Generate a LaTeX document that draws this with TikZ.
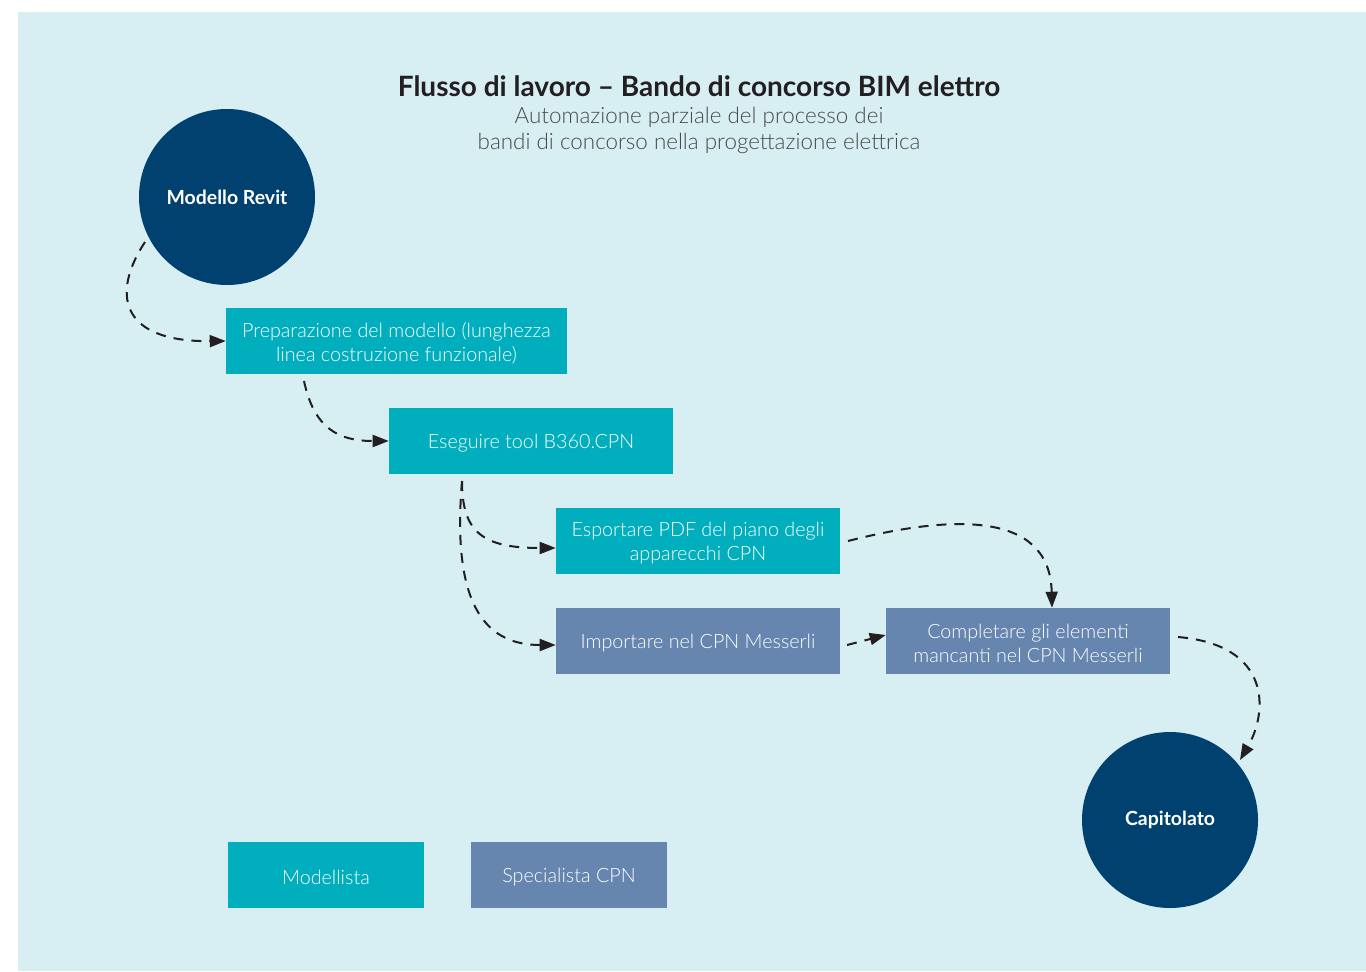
\documentclass[tikz,border=0pt]{standalone}
\usepackage{fontspec}
\setmainfont{Lato}
\newfontfamily\latolight{Lato Light}
\usetikzlibrary{arrows.meta}
\definecolor{bgc}{HTML}{D7EEF2}
\definecolor{tealc}{HTML}{00AEBD}
\definecolor{slatec}{HTML}{6685AF}
\definecolor{navyc}{HTML}{00416F}
\definecolor{inkc}{HTML}{231F20}
\definecolor{subc}{HTML}{4A4A4A}
\tikzset{
  boxbase/.style={rectangle, inner sep=0pt, minimum height=49.5pt, text=white, align=center,
    font=\latolight\fontsize{14.8}{18}\selectfont, yshift=-1.8pt,
    append after command={}},
  tealbox/.style={boxbase},
  slatebox/.style={boxbase},
  tealfill/.style={fill=tealc, inner sep=0pt, minimum height=49.5pt},
  slatefill/.style={fill=slatec, inner sep=0pt, minimum height=49.5pt},
  disc/.style={circle, fill=navyc, minimum size=132pt, inner sep=0pt, text=white,
    font=\fontsize{14.6}{16}\selectfont\bfseries},
  flow/.style={draw=inkc, line width=1.5pt, dash pattern=on 7.5pt off 6pt,
    -{Triangle[length=12pt,width=9pt]}},
}
\begin{document}
\begin{tikzpicture}[x=0.75pt,y=-0.75pt]
\useasboundingbox (0,0) rectangle (1366,971);
\fill[white] (0,0) rectangle (1366,971);
\fill[bgc] (18,12) rectangle (1366,971);

\node[text=inkc, font=\fontsize{21}{24}\selectfont\bfseries] (title) at (699,86)
  {Flusso di lavoro – Bando di concorso BIM elettro};
\node[text=subc, align=center, font=\latolight\fontsize{16.8}{19.5}\selectfont] (sub) at (699,130)
  {Automazione parziale del processo dei\\bandi di concorso nella progettazione elettrica};

\node[disc] (revit) at (227,197) {Modello Revit};
\node[disc] (cap) at (1170,820) {Capitolato};

\node[tealfill, minimum width=255.75pt] (prep) at (396.5,341) {};
\node[tealfill, minimum width=213pt] (tool) at (531,441) {};
\node[tealfill, minimum width=213pt] (pdf) at (698,541) {};
\node[slatefill, minimum width=213pt] (imp) at (698,641) {};
\node[slatefill, minimum width=213pt] (comp) at (1028,641) {};
\node[tealfill, minimum width=147pt] (leg1) at (326,875) {};
\node[slatefill, minimum width=147pt] (leg2) at (569,875) {};

\node[boxbase] (prept) at (prep) {Preparazione del modello (lunghezza\\linea costruzione funzionale)};
\node[boxbase] (toolt) at (tool) {Eseguire tool B360.CPN};
\node[boxbase] (pdft) at (pdf) {Esportare PDF del piano degli\\apparecchi CPN};
\node[boxbase] (impt) at (imp) {Importare nel CPN Messerli};
\node[boxbase] (compt) at (comp) {Completare gli elementi\\mancanti nel CPN Messerli};
\node[boxbase] (leg1t) at (leg1) {Modellista};
\node[boxbase] (leg2t) at (leg2) {Specialista CPN};

\coordinate (a1s) at (145,242);
\coordinate (a2s) at (304,381);
\coordinate (a3s) at (462,481);
\coordinate (a5s) at (847,645);
\coordinate (a6s) at (848,541);
\coordinate (a7s) at (1178,637);
\coordinate (a7e) at (1240,760);

\draw[flow] (a1s) .. controls (112,292) and (118,342) .. (prep.west);
\draw[flow] (a2s) .. controls (314,428) and (338,441) .. (tool.west);
\draw[flow] (a3s) .. controls (462,532) and (482,548) .. (pdf.west |- 0,548);
\draw[flow] (a3s) .. controls (452,600) and (482,645) .. (imp.west |- 0,645);
\draw[flow] (a5s) -- (comp.west |- 0,635);
\draw[flow] (a6s) .. controls (950,515) and (1050,510) .. (comp.north -| 1052,0);
\draw[flow] (a7s) .. controls (1272,645) and (1268,712) .. (a7e);
\end{tikzpicture}
\end{document}
